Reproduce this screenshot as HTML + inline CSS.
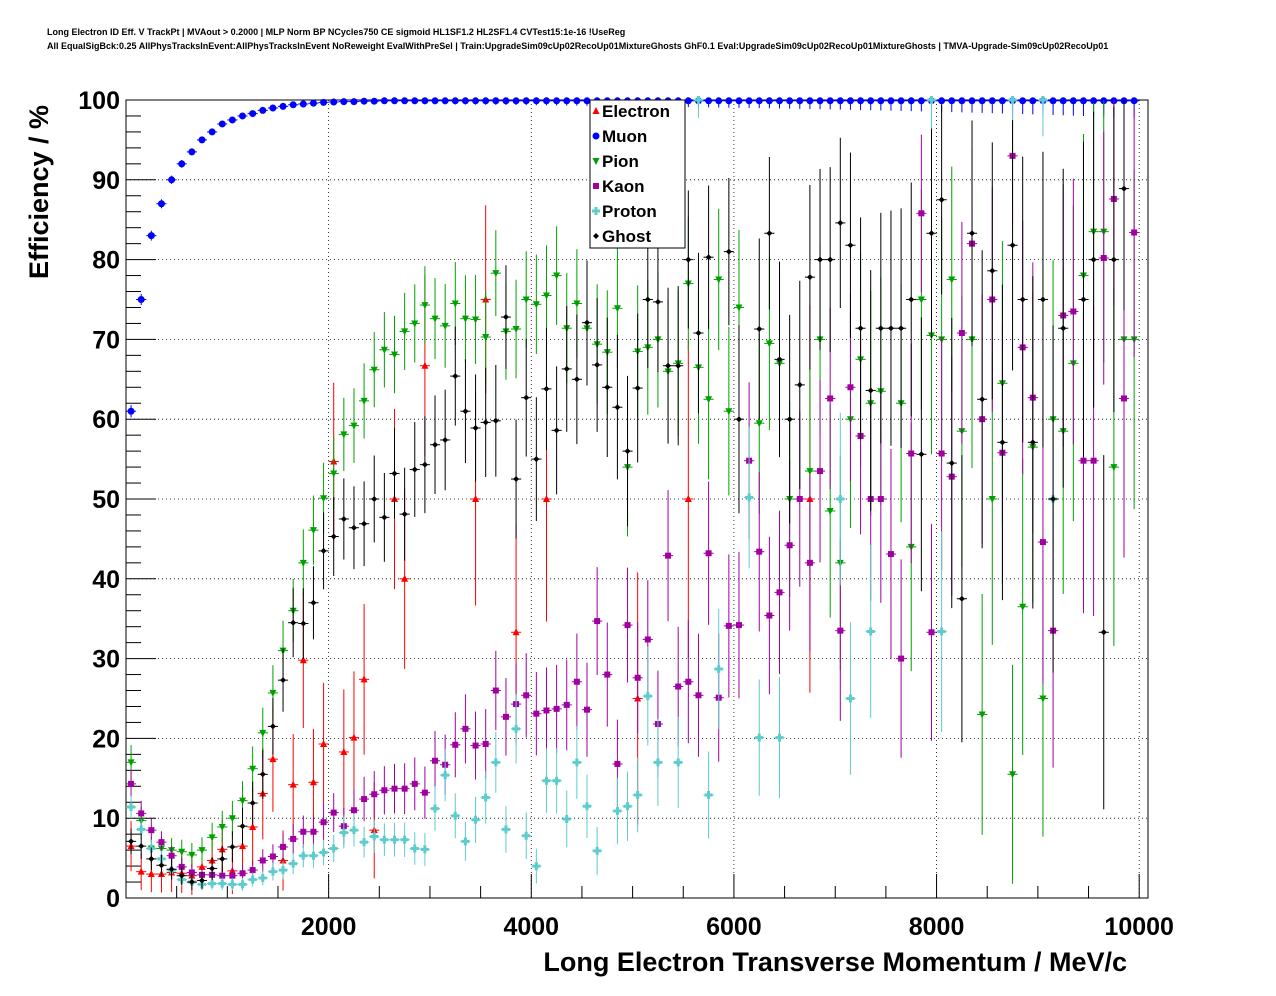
<!DOCTYPE html>
<html><head><meta charset="utf-8">
<style>
html,body{margin:0;padding:0;background:#fff;}
svg{display:block;font-family:"Liberation Sans",Arial,sans-serif;}
</style></head>
<body>
<svg id="chart" width="1276" height="996" viewBox="0 0 1276 996" xmlns="http://www.w3.org/2000/svg">
<rect x="0" y="0" width="1276" height="996" fill="#fff"/>
<text x="47" y="35" font-size="9" font-weight="bold">Long Electron ID Eff. V TrackPt | MVAout &gt; 0.2000 | MLP Norm BP NCycles750 CE sigmoid HL1SF1.2 HL2SF1.4 CVTest15:1e-16 !UseReg</text>
<text x="47" y="49" font-size="9" font-weight="bold">All EqualSigBck:0.25 AllPhysTracksInEvent:AllPhysTracksInEvent NoReweight EvalWithPreSel | Train:UpgradeSim09cUp02RecoUp01MixtureGhosts GhF0.1 Eval:UpgradeSim09cUp02RecoUp01MixtureGhosts | TMVA-Upgrade-Sim09cUp02RecoUp01</text>
<g id="grid"></g>
<g id="axes"></g>
<g id="series"></g>
<text transform="translate(48,279) rotate(-90)" font-size="27" font-weight="bold">Efficiency / %</text>
<text x="1127" y="971" text-anchor="end" font-size="27" font-weight="bold">Long Electron Transverse Momentum / MeV/c</text>
<g id="legend"></g>
</svg>
<script>
const xTicks = [2000, 4000, 6000, 8000, 10000];
const yTicks = [0, 10, 20, 30, 40, 50, 60, 70, 80, 90, 100];
const seriesNames = ["Electron", "Muon", "Pion", "Kaon", "Proton", "Ghost"];
const binWidth = 100;
const muon = [61,75,83,87,90,92,93.5,95,96,97,97.5,98,98.3,98.7,99,99.2,99.4,99.5,99.6,99.7,99.75,99.8,99.8,99.85,99.85,99.9,99.9,99.9,99.9,99.9,99.9,99.9,99.9,99.9,99.9,99.9,99.9,99.9,99.9,99.9,99.9,99.9,99.9,99.9,99.9,99.9,99.9,99.9,99.9,99.9,99.9,99.9,99.9,99.9,99.9,99.9,99.9,99.9,99.9,99.9,99.9,99.9,99.9,99.9,99.9,99.9,99.9,99.9,99.9,99.9,99.9,99.9,99.9,99.9,99.9,99.9,99.9,99.9,99.9,99.9,99.9,99.9,99.9,99.9,99.9,99.9,99.9,99.9,99.9,99.9,99.9,99.9,99.9,99.9,99.9,99.9,99.9,99.9,99.9,99.9];
const electron = [6.5,3.3,3,3,3.2,3.1,2.8,3.9,4.7,6.1,3.4,6.5,8.9,13.1,17.4,4.7,14.2,29.8,14.5,19.3,54.7,18.3,20.1,27.4,8.5,null,50,40,null,66.7,null,null,null,null,50,75,null,null,33.3,null,null,50,null,null,null,null,null,null,null,null,25,null,null,null,null,50,null,null,null,null,null,null,null,null,null,null,null,50,null,null,null,null,null,null,null,null,null,null,null,null,null,null,null,null,null,null,null,null,null,null,null,null,null,null,null,null,null,null,null,null];
const pion = [17,9.7,6.2,6.2,6,5.8,5.4,6,7.6,8.9,10,12.2,16.2,20.7,25.7,31,36,42,46.1,50.1,53.2,58.1,59.2,62.3,66.2,68.7,68.1,71,72,74.3,72.6,71.7,74.5,72.6,72.5,70.3,78.3,71,71.3,75,74.4,75.5,78,71.4,74.5,71.4,69.4,68.4,73.9,54,68.5,69,70,66,67,77,66.5,62.5,77.5,61,74,null,59.5,69.5,67,50,null,53.5,70,48.5,42,60,67.5,62,63.5,null,62,44,75,70.5,70,77.5,58.5,70,23,50,64.5,15.5,36.5,56.5,25,60,58.5,67,78,83.5,83.5,54,70,70];
const kaon = [14.3,10.6,8.5,7,5.3,3.9,3.2,2.9,2.9,2.8,2.8,3.1,3.5,4.7,5.2,6.4,7.4,8.3,8.3,9.5,10.7,9,11,12.4,13,13.5,13.7,13.7,14.3,13.2,17.2,16.7,19.2,21.2,19.1,19.3,26,22.7,24.3,25.4,23.1,23.5,23.7,24.2,27.1,23.6,34.7,28,16.8,34.2,27.6,32.4,21.8,42.9,26.5,27.1,25.4,43.2,25.1,34.1,34.2,54.8,43.4,35.4,38.3,44.2,50,42,53.5,62.6,33.5,64,57.9,50,50,43.1,30,55.7,85.8,33.3,55.7,52.8,70.8,82,60,75,55.8,93,69,62.7,44.6,33.5,73,73.5,54.8,54.8,80.2,87.6,62.6,83.4];
const proton = [11.4,8.6,6.2,4.9,3.5,2.3,2,1.7,1.8,1.8,1.7,1.7,2.3,2.5,3.3,3.5,4.3,5.3,5.3,5.7,6.2,8.2,8.5,7,7.7,7.3,7.3,7.3,6.2,6.1,11.2,15.4,10.3,7.1,9.8,12.6,17,8.6,21.2,7.8,4,14.7,14.7,9.9,17,11.5,5.9,null,10.9,11.5,12.9,25.3,17,null,17,null,100,12.9,28.7,null,null,50.2,20.1,null,20.1,null,null,null,null,null,50,25,null,33.4,null,null,null,null,null,100,33.4,null,null,null,null,null,null,100,null,null,100,50,null,null,null,null,null,null,null,null];
const ghost = [7.1,6.5,4.9,4.1,3.6,2.8,2,2.2,3.7,4.9,6.4,9,11.9,15.5,21.5,27.3,34.5,34.4,37,43.5,45.3,47.5,46.4,46.9,50,47.7,53.2,48.1,53.7,54.3,56.8,57.4,65.4,61,58.9,59.6,59.8,72.8,52.5,62.7,55,63.8,58.6,66.3,65,72.1,66.8,64,61.5,56,63.9,75,74.7,66.7,66.7,80,70.8,80.3,null,81,60,null,71.3,83.3,67.5,60,64.3,77.8,80,80,84.6,81.8,71.4,63.6,71.4,71.4,71.4,75,55.6,83.3,87.5,54.5,37.5,83.3,62.5,78.6,57.1,81.8,75,57.1,75,50,71.4,null,75,80,33.3,80,88.9,null];

const X0 = 126, XS = 0.10132, Y0 = 898, YS = 7.98, XR = 1148, YT = 100;
const sx = v => X0 + v * XS;
const sy = v => Y0 - v * YS;
const NS = "http://www.w3.org/2000/svg";
function mk(tag, attrs, parent) {
  const e = document.createElementNS(NS, tag);
  for (const k in attrs) e.setAttribute(k, attrs[k]);
  parent.appendChild(e);
  return e;
}
const grid = document.getElementById('grid');
const axes = document.getElementById('axes');
const ser = document.getElementById('series');
const leg = document.getElementById('legend');

xTicks.forEach(t => {
  const l = mk('line', {x1: sx(t), x2: sx(t), y1: YT, y2: Y0, stroke: '#000', 'stroke-width': 0.8, 'stroke-dasharray': '1,3'}, grid);
  
  
});
yTicks.forEach(t => {
  const l = mk('line', {x1: X0, x2: XR, y1: sy(t), y2: sy(t), stroke: '#000', 'stroke-width': 0.8, 'stroke-dasharray': '1,3'}, grid);
  
  
});
mk('rect', {x: X0, y: YT, width: XR - X0, height: Y0 - YT, fill: 'none', stroke: '#000', 'stroke-width': 1}, axes);
for (let v = 0; v <= 10000; v += 500) {
  const major = v % 2000 === 0;
  mk('line', {x1: sx(v), x2: sx(v), y1: Y0, y2: Y0 - (major ? 24 : 12), stroke: '#000'}, axes);
}
for (let v = 0; v <= 100; v += 2) {
  const major = v % 10 === 0;
  mk('line', {x1: X0, x2: X0 + (major ? 30 : 15), y1: sy(v), y2: sy(v), stroke: '#000'}, axes);
}
xTicks.forEach(t => {
  const tx = mk('text', {x: sx(t), y: 935, 'text-anchor': 'middle', 'font-size': 25, 'font-weight': 'bold'}, axes);
  
  
  tx.textContent = t;
});
yTicks.forEach(t => {
  const tx = mk('text', {x: 120, y: sy(t) + 9, 'text-anchor': 'end', 'font-size': 25, 'font-weight': 'bold'}, axes);
  
  
  tx.textContent = t;
});

const colors = ["#ff0000", "#0000ff", "#00a000", "#a000a0", "#5ecccc", "#000000"];
const datasets = [electron, muon, pion, kaon, proton, ghost];
const nEff = [60, 4000, 300, 400, 500, 250];

function marker(kind, x, y, col, g) {
  if (kind === 0) mk('polygon', {points: `${x},${y-4} ${x-3.5},${y+3} ${x+3.5},${y+3}`, fill: col}, g);
  else if (kind === 1) mk('circle', {cx: x, cy: y, r: 3.5, fill: col}, g);
  else if (kind === 2) mk('polygon', {points: `${x},${y+4} ${x-3.5},${y-3} ${x+3.5},${y-3}`, fill: col}, g);
  else if (kind === 3) mk('rect', {x: x - 3, y: y - 3, width: 6, height: 6, fill: col}, g);
  else if (kind === 4) mk('path', {d: `M${x-4},${y-1.5}h2.5v-2.5h3v2.5h2.5v3h-2.5v2.5h-3v-2.5h-2.5z`, fill: col}, g);
  else mk('polygon', {points: `${x},${y-3} ${x-3},${y} ${x},${y+3} ${x+3},${y}`, fill: col}, g);
}

datasets.forEach((arr, s) => {
  const g = mk('g', {}, ser);
  
  
  arr.forEach((v, i) => {
    if (v === null) return;
    const xc = (i + 0.5) * binWidth;
    const px = sx(xc), py = sy(v);
    const p = Math.min(Math.max(v / 100, 0.02), 0.98);
    const n = nEff[s] * Math.pow(0.955, i) + 1.5;
    const e = Math.min(100 * Math.sqrt(p * (1 - p) / n), 45);
    const lo = Math.max(0, v - e), hi = Math.min(100, v + e);
    const col = colors[s];
    mk('line', {x1: px, x2: px, y1: sy(lo), y2: sy(hi), stroke: col, 'stroke-width': 1}, g);
    mk('line', {x1: sx(xc - binWidth / 2), x2: sx(xc + binWidth / 2), y1: py, y2: py, stroke: col, 'stroke-width': 1}, g);
    marker(s, px, py, col, g);
  });
});

mk('rect', {x: 590, y: 100, width: 95, height: 148, fill: '#fff', stroke: '#000', 'stroke-width': 1}, leg);
seriesNames.forEach((nm, s) => {
  const y = 111 + s * 25;
  const g = mk('g', {}, leg);
  
  
  marker(s, 596, y, colors[s], g);
  const t = mk('text', {x: 602, y: y + 6, 'font-size': 17, 'font-weight': 'bold'}, g);
  t.textContent = nm;
});
</script>
</body></html>
